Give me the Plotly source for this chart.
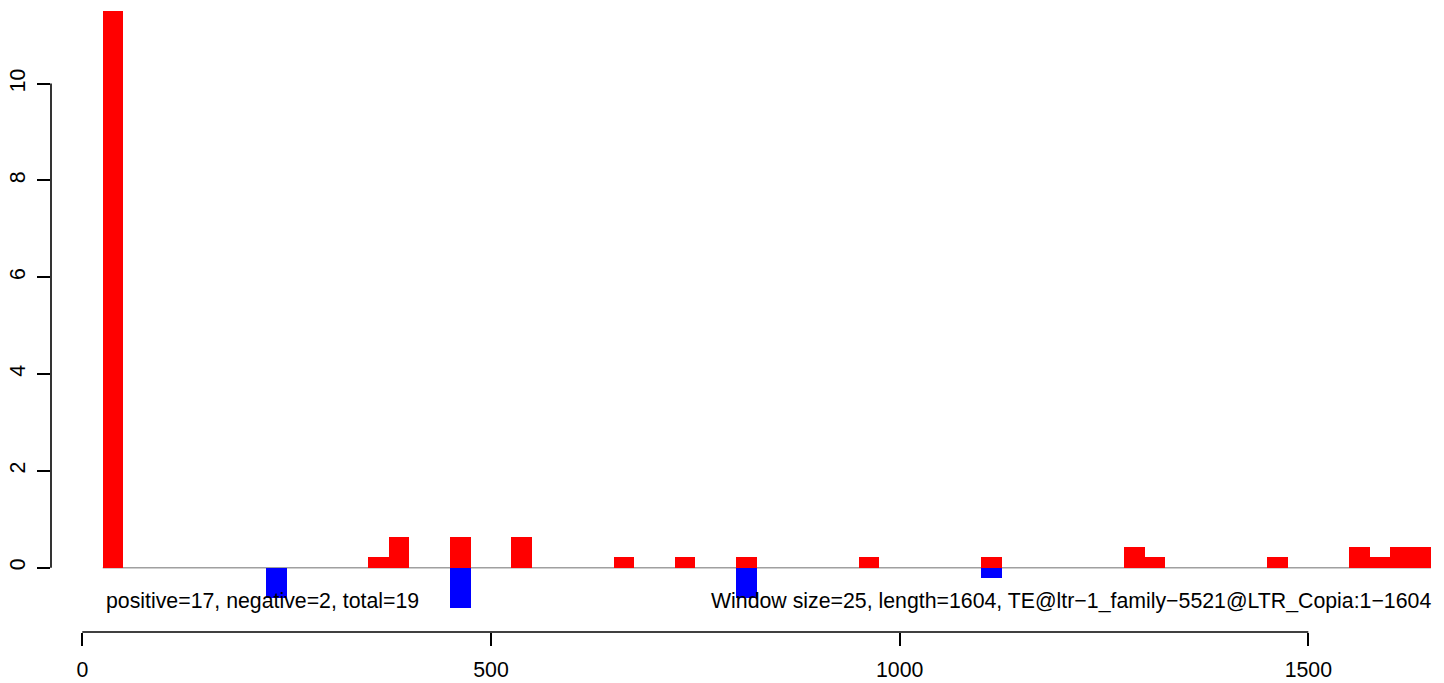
import plotly.graph_objects as go

# window start positions (bp) and signal per window
window = 25
pos_x = [25, 350, 375, 450, 525, 650, 725, 800, 950, 1100, 1275, 1300, 1450, 1550, 1575, 1600, 1625]
pos_y = [12.0, 0.21, 0.63, 0.63, 0.63, 0.21, 0.21, 0.21, 0.21, 0.21, 0.42, 0.21, 0.21, 0.42, 0.21, 0.42, 0.42]
neg_x = [225, 450, 800, 1100]
neg_y = [-0.63, -0.84, -0.63, -0.21]

x_ticks = [0, 500, 1000, 1500]
y_ticks = [0, 2, 4, 6, 8, 10]

left_text = "positive=17, negative=2, total=19"
right_text = "Window size=25, length=1604, TE@ltr\u22121_family\u22125521@LTR_Copia:1\u22121604"

font = dict(family="Liberation Sans, Arial, sans-serif", size=21.3, color="black")

fig = go.Figure()
fig.add_trace(go.Bar(x=[v + window / 2 for v in pos_x], y=pos_y, width=window,
                     marker=dict(color="#ff0000", line=dict(width=0))))
fig.add_trace(go.Bar(x=[v + window / 2 for v in neg_x], y=neg_y, width=window,
                     marker=dict(color="#0000ff", line=dict(width=0))))

xmin, xmax = -38.3, 1666
ymin, ymax = -1.33, 11.5

# zero line across the windows
fig.add_shape(type="line", x0=25, x1=1650, y0=0, y1=0, layer="below",
              line=dict(color="#a0a0a0", width=1.5))
# R-style axis lines spanning first to last tick
fig.add_shape(type="line", xref="x", yref="paper", x0=x_ticks[0], x1=x_ticks[-1], y0=0, y1=0,
              line=dict(color="black", width=1.6))
fig.add_shape(type="line", xref="paper", yref="y", x0=0, x1=0, y0=y_ticks[0], y1=y_ticks[-1],
              line=dict(color="black", width=1.6))

fig.add_annotation(x=26, y=-0.68, text=left_text, showarrow=False, xanchor="left",
                   yanchor="middle", font=font)
fig.add_annotation(x=1652, y=-0.68, text=right_text, showarrow=False, xanchor="right",
                   yanchor="middle", font=font)

# page body adds an 8px offset, so the figure is sized to end at the window edge
fig.update_layout(
    width=1436, height=675,
    margin=dict(l=43, r=0, t=3, b=51),
    plot_bgcolor="white", paper_bgcolor="white",
    showlegend=False, barmode="overlay", bargap=0,
    font=font,
    xaxis=dict(range=[xmin, xmax], tickvals=x_ticks, ticks="outside", ticklen=13,
               tickwidth=1.6, tickcolor="black", showgrid=False, zeroline=False,
               showline=False, ticklabelstandoff=5, automargin=False,
               ticklabeloverflow="allow"),
    yaxis=dict(range=[ymin, ymax], tickvals=y_ticks, ticks="outside", ticklen=13,
               tickwidth=1.6, tickcolor="black", showgrid=False, zeroline=False,
               showline=False, tickangle=-90, ticklabelstandoff=3, automargin=False,
               ticklabeloverflow="allow"),
)

fig.write_html("out.html")
